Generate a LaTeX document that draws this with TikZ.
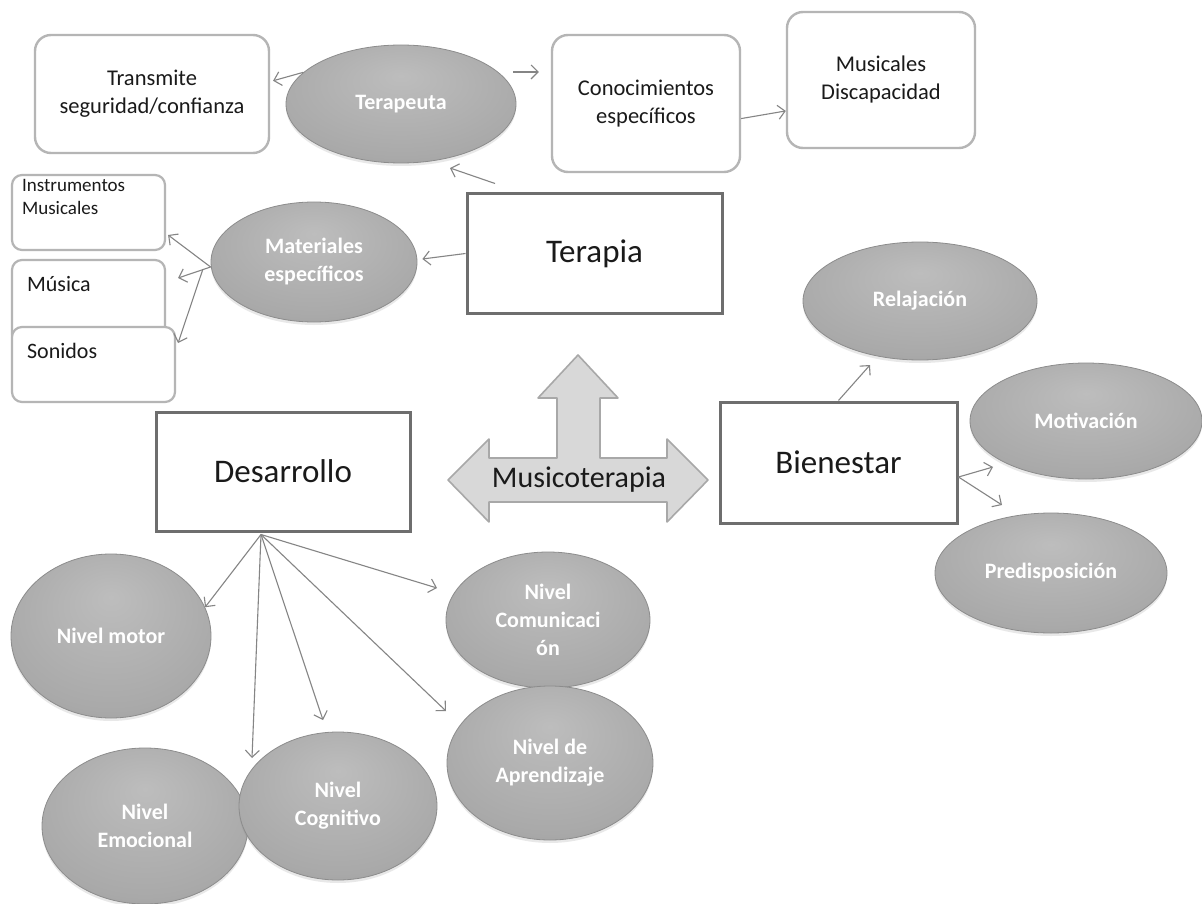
\documentclass[tikz,border=0pt]{standalone}
\usepackage{fontspec}
\setmainfont{Carlito}
\usetikzlibrary{arrows.meta,shapes.geometric,shadows}

\definecolor{txt}{HTML}{1A1A1A}
\definecolor{boxgray}{HTML}{B5B5B5}
\definecolor{sqgray}{HTML}{6E6E6E}
\definecolor{arrgray}{HTML}{858585}
\definecolor{eborder}{HTML}{8C8C8C}
\definecolor{ecenter}{HTML}{BDBDBD}
\definecolor{emid}{HTML}{A9A9A9}
\definecolor{eedge}{HTML}{8E8E8E}
\definecolor{mtfill}{HTML}{D8D8D8}
\definecolor{mtdraw}{HTML}{A8A8A8}

% grey bevelled look of the ellipses
\pgfdeclareradialshading{ellshade}{\pgfpoint{0bp}{12bp}}{color(0bp)=(ecenter); color(28bp)=(emid); color(46bp)=(eedge); color(50bp)=(eedge)}

\tikzset{
  rbox/.style={draw=boxgray, line width=2.4pt, rounded corners=16pt, fill=white,
    inner sep=0pt, align=center, text=txt, font=\fontsize{22.5}{28}\selectfont},
  smallbox/.style={draw=boxgray, line width=2.2pt, rounded corners=10pt, fill=white, inner sep=0pt},
  boxlbl/.style={inner sep=0pt, align=left, text=txt},
  sbox/.style={draw=sqgray, line width=3pt, fill=white, inner sep=0pt, text=txt,
    font=\fontsize{33}{40}\selectfont},
  bubble/.style={ellipse, shading=ellshade, draw=eborder, line width=0.8pt, inner sep=0pt,
    text=white, align=center, font=\bfseries\fontsize{22}{28}\selectfont,
    drop shadow={opacity=0.18, shadow xshift=0pt, shadow yshift=-3pt}},
  arr/.style={draw=arrgray, line width=1.1pt, -{Straight Barb[length=7pt,width=14pt]}},
  bigarrow/.style={fill=mtfill, draw=mtdraw, line width=1.6pt, line join=round},
}

\begin{document}
\begin{tikzpicture}[x=1pt,y=-1pt]
\fill[white] (0,0) rectangle (1202,904);
\useasboundingbox (0,0) rectangle (1202,904);

% --- Terapia branch ---
\node[rbox, minimum width=234pt, minimum height=118pt] (trans) at (152,94) {Transmite\\seguridad/confianza};
\node[rbox, minimum width=188pt, minimum height=137pt] (conoc) at (646,103.5) {Conocimientos\\específicos};
\node[rbox, minimum width=188pt, minimum height=136pt] (musdis) at (881,80) {Musicales\\Discapacidad};
\node[bubble, minimum width=230pt, minimum height=118pt] (terapeuta) at (401,104) {Terapeuta};

\node[smallbox, minimum width=153pt, minimum height=75pt,
  label={[boxlbl, anchor=north west, xshift=11pt, yshift=-5pt, font=\fontsize{19}{23}\selectfont]north west:{Instrumentos\\Musicales}}] (instr) at (88.5,212.5) {};
\node[smallbox, minimum width=153pt, minimum height=85pt,
  label={[boxlbl, anchor=west, xshift=16pt, yshift=-25pt, font=\fontsize{22}{26}\selectfont]north west:{Música}}] (musica) at (88.5,302.5) {};
\node[smallbox, minimum width=163pt, minimum height=75pt,
  label={[boxlbl, anchor=west, xshift=16pt, yshift=-25pt, font=\fontsize{22}{26}\selectfont]north west:{Sonidos}}] (sonidos) at (93.5,364.5) {};
\node[bubble, minimum width=206pt, minimum height=120pt] (materiales) at (314,262) {Materiales\\específicos};

\node[sbox, minimum width=255pt, minimum height=119pt] (terapia) at (594.5,253.5) {Terapia};

% --- central three-way arrow ---
\filldraw[bigarrow] (448,480) -- (489,439) -- (489,458) -- (557,458) -- (557,398) -- (538,398)
  -- (578,355) -- (618,398) -- (600,398) -- (600,458) -- (667,458) -- (667,439)
  -- (708,480) -- (667,522) -- (667,502) -- (489,502) -- (489,522) -- cycle;
\node[text=txt, font=\fontsize{30}{36}\selectfont] (mt) at (579,480) {Musicoterapia};

% --- Desarrollo branch ---
\node[sbox, minimum width=254pt, minimum height=119pt] (desarrollo) at (283,471.5) {Desarrollo};
\node[bubble, minimum width=200pt, minimum height=164pt] (motor) at (111,636) {Nivel motor};
\node[bubble, minimum width=206pt, minimum height=156pt] (emocional) at (145,826) {Nivel\\Emocional};
\node[bubble, minimum width=198pt, minimum height=148pt] (cognitivo) at (338,806) {Nivel\\Cognitivo};
\node[bubble, minimum width=204pt, minimum height=136pt] (comunicacion) at (548,620) {Nivel\\Comunicaci\\ón};
\node[bubble, minimum width=206pt, minimum height=154pt] (aprendizaje) at (550,763) {Nivel de\\Aprendizaje};

% --- Bienestar branch ---
\node[sbox, minimum width=237pt, minimum height=121pt] (bienestar) at (838.5,462.5) {Bienestar};
\node[bubble, minimum width=234pt, minimum height=118pt] (relajacion) at (920,301) {Relajación};
\node[bubble, minimum width=232pt, minimum height=116pt] (motivacion) at (1086,421) {Motivación};
\node[bubble, minimum width=232pt, minimum height=120pt] (predisposicion) at (1051,573) {Predisposición};

% --- connectors ---
\draw[arr, shorten >=3pt] (terapeuta.162) -- (trans.6);
\draw[arr] ([xshift=-3pt,yshift=32pt]terapeuta.east) -- ([xshift=-12pt,yshift=31.5pt]conoc.west);
\draw[arr] (conoc.-9) -- (musdis.198);
\draw[arr] ([xshift=-99.5pt,yshift=9pt]terapia.north) -- ([xshift=49pt,yshift=-64pt]terapeuta.center);
\draw[arr] (terapia.west) -- ([xshift=5pt,yshift=3pt]materiales.east);
\draw[arr] ([yshift=-5pt]materiales.west) -- ([xshift=2pt,yshift=-22.5pt]instr.east);
\draw[arr] ([yshift=-5pt]materiales.west) -- ([xshift=12pt,yshift=24.5pt]musica.east);
\draw[arr] ([xshift=-8pt,yshift=-8pt]materiales.west) -- ([xshift=2pt,yshift=21.5pt]sonidos.east);

\coordinate (dsrc) at ([xshift=-22pt,yshift=-2pt]desarrollo.south);
\draw[arr] (dsrc) -- (motor.17);
\draw[arr] (dsrc) -- ([xshift=107pt,yshift=68pt]emocional.center);
\draw[arr] (dsrc) -- ([xshift=-15pt,yshift=86pt]cognitivo.center);
\draw[arr] (dsrc) -- ([xshift=-104pt,yshift=52pt]aprendizaje.center);
\draw[arr] (dsrc) -- ([xshift=-111pt,yshift=32pt]comunicacion.center);

\draw[arr] (bienestar.north) -- ([xshift=-50pt,yshift=-64pt]relajacion.center);
\draw[arr] ([yshift=-14.5pt]bienestar.east) -- ([xshift=-93pt,yshift=-46pt]motivacion.center);
\draw[arr] ([yshift=-14.5pt]bienestar.east) -- ([xshift=-49pt,yshift=68pt]predisposicion.center);
\end{tikzpicture}
\end{document}
